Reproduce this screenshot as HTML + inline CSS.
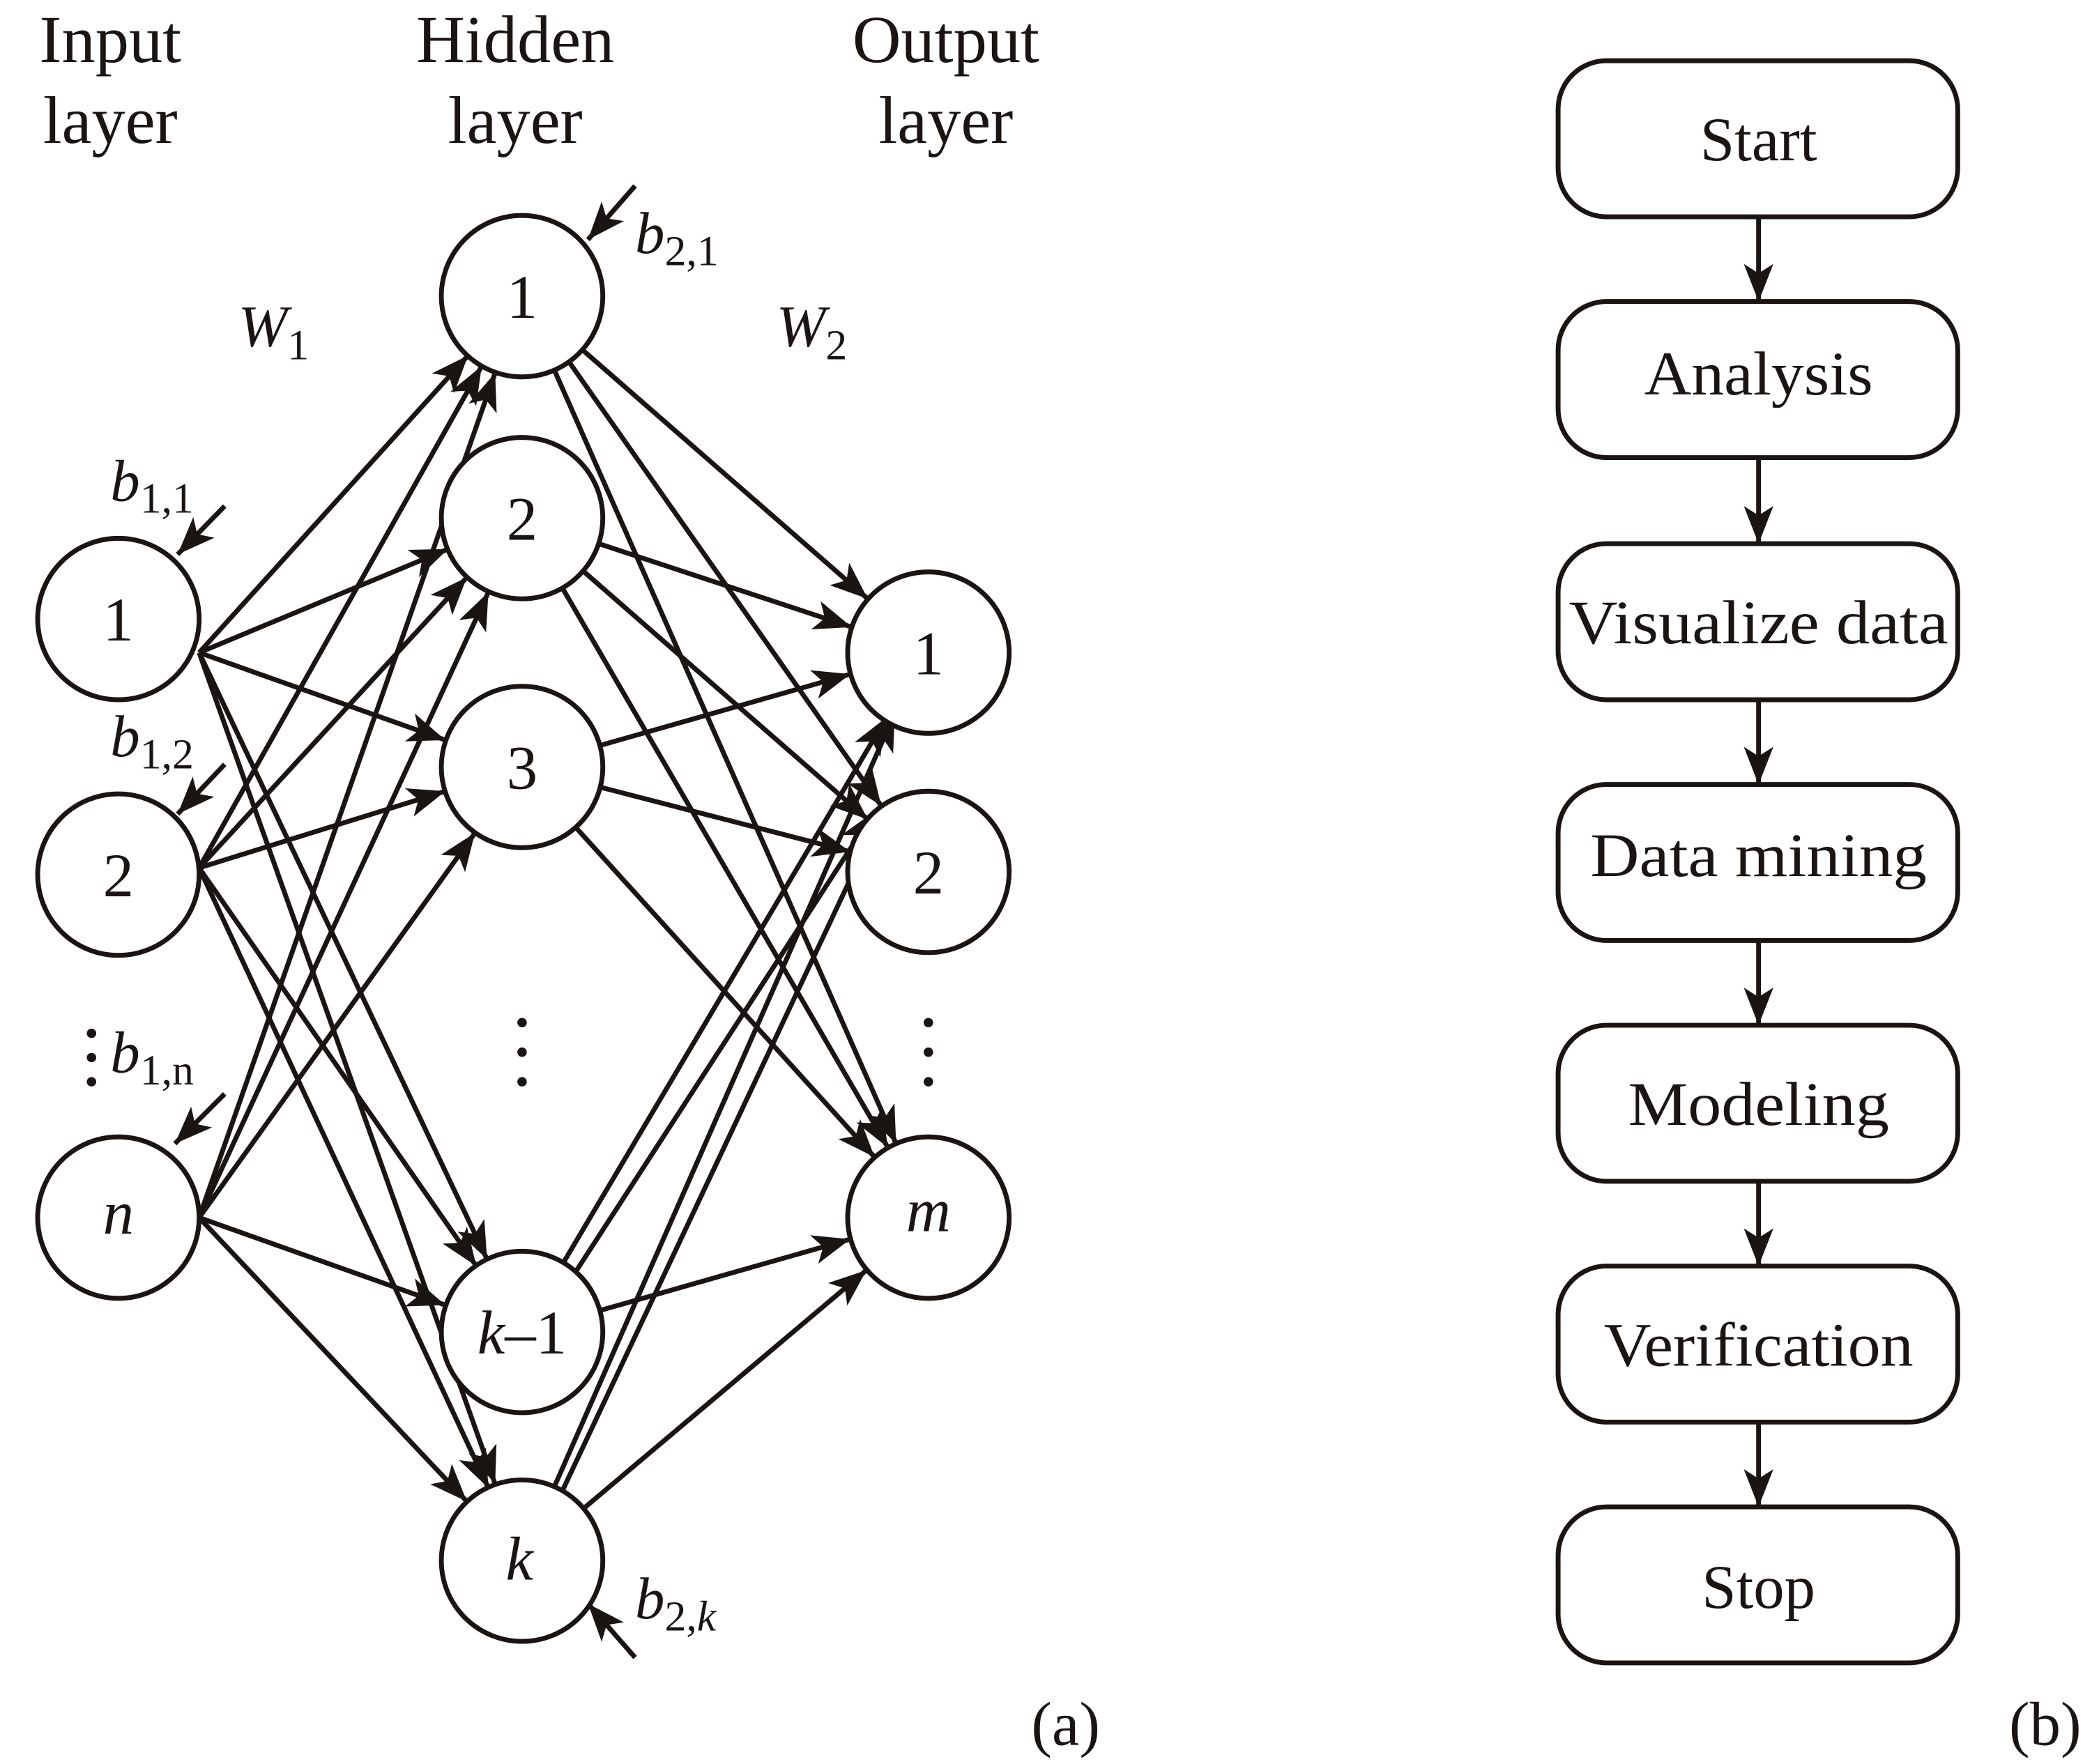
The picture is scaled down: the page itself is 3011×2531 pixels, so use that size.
<!DOCTYPE html>
<html><head><meta charset="utf-8"><style>
html,body{margin:0;padding:0;background:#fff;}
svg{display:block;}
text{font-family:"Liberation Serif",serif;fill:#1a1412;}
</style></head><body>
<svg width="3011" height="2531" viewBox="0 0 1560 1311" xmlns="http://www.w3.org/2000/svg">
<defs>
<marker id="a" markerUnits="userSpaceOnUse" markerWidth="30" markerHeight="22" refX="28" refY="11" orient="auto">
<path d="M0,0 L28,11 L0,22 L7,11 Z" fill="#1a1412"/>
</marker>
</defs>
<rect width="1560" height="1311" fill="#fff"/>
<g font-size="50" text-anchor="middle">
<text x="82" y="46">Input</text><text x="82" y="106">layer</text>
<text x="383" y="46">Hidden</text><text x="383" y="106">layer</text>
<text x="703" y="46">Output</text><text x="703" y="106">layer</text>
</g>
<g font-size="44" font-style="italic">
<text x="177" y="257">W<tspan font-style="normal" font-size="32" dy="10">1</tspan></text>
<text x="577" y="257">W<tspan font-style="normal" font-size="32" dy="10">2</tspan></text>
<text x="82" y="372">b<tspan font-style="normal" font-size="32" dy="9">1,1</tspan></text>
<text x="82" y="562">b<tspan font-style="normal" font-size="32" dy="9">1,2</tspan></text>
<text x="82" y="797">b<tspan font-style="normal" font-size="32" dy="9">1,n</tspan></text>
<text x="472" y="188">b<tspan font-style="normal" font-size="32" dy="9">2,1</tspan></text>
<text x="472" y="1203">b<tspan font-style="normal" font-size="32" dy="9">2,<tspan font-style="italic">k</tspan></tspan></text>
</g>
<g fill="#1a1412">
<circle cx="68" cy="768" r="3.5"/><circle cx="68" cy="786" r="3.5"/><circle cx="68" cy="804" r="3.5"/>
<circle cx="388" cy="760" r="3.5"/><circle cx="388" cy="782" r="3.5"/><circle cx="388" cy="804" r="3.5"/>
<circle cx="690" cy="760" r="3.5"/><circle cx="690" cy="782" r="3.5"/><circle cx="690" cy="804" r="3.5"/>
</g>
<g stroke="#1a1412" stroke-width="3.6" fill="none" marker-end="url(#a)">
<line x1="148" y1="485" x2="348" y2="264"/>
<line x1="148" y1="485" x2="333" y2="408"/>
<line x1="148" y1="485" x2="331" y2="550"/>
<line x1="148" y1="485" x2="362" y2="936"/>
<line x1="148" y1="485" x2="368" y2="1103"/>
<line x1="148" y1="645" x2="358" y2="272"/>
<line x1="148" y1="645" x2="347" y2="429"/>
<line x1="148" y1="645" x2="331" y2="588"/>
<line x1="148" y1="645" x2="354" y2="941"/>
<line x1="148" y1="645" x2="363" y2="1106"/>
<line x1="148" y1="905" x2="368" y2="277"/>
<line x1="148" y1="905" x2="363" y2="440"/>
<line x1="148" y1="905" x2="353" y2="619"/>
<line x1="148" y1="905" x2="331" y2="970"/>
<line x1="148" y1="905" x2="347" y2="1116"/>
<line x1="433" y1="260" x2="645" y2="445"/>
<line x1="423" y1="269" x2="655" y2="599"/>
<line x1="412" y1="275" x2="666" y2="850"/>
<line x1="445" y1="404" x2="633" y2="466"/>
<line x1="433" y1="424" x2="645" y2="609"/>
<line x1="418" y1="437" x2="660" y2="853"/>
<line x1="446" y1="554" x2="632" y2="501"/>
<line x1="446" y1="585" x2="632" y2="633"/>
<line x1="428" y1="615" x2="650" y2="860"/>
<line x1="419" y1="938" x2="659" y2="533"/>
<line x1="428" y1="945" x2="650" y2="603"/>
<line x1="446" y1="974" x2="632" y2="921"/>
<line x1="412" y1="1105" x2="665" y2="530"/>
<line x1="418" y1="1108" x2="659" y2="596"/>
<line x1="434" y1="1121" x2="644" y2="944"/>
<line x1="167" y1="376" x2="132" y2="412"/>
<line x1="167" y1="568" x2="132" y2="605"/>
<line x1="167" y1="813" x2="130" y2="850"/>
<line x1="472" y1="138" x2="437" y2="178"/>
<line x1="472" y1="1232" x2="437" y2="1192"/>
</g>
<g stroke="#1a1412" stroke-width="3.6" fill="#fff">
<circle cx="88" cy="460" r="60"/><circle cx="88" cy="650" r="60"/><circle cx="88" cy="905" r="60"/>
<circle cx="388" cy="220" r="60"/><circle cx="388" cy="385" r="60"/><circle cx="388" cy="570" r="60"/>
<circle cx="388" cy="990" r="60"/><circle cx="388" cy="1160" r="60"/>
<circle cx="690" cy="485" r="60"/><circle cx="690" cy="648" r="60"/><circle cx="690" cy="905" r="60"/>
</g>
<g font-size="46" text-anchor="middle">
<text x="88" y="476">1</text><text x="88" y="666">2</text><text x="88" y="917" font-style="italic">n</text>
<text x="388" y="236">1</text><text x="388" y="401">2</text><text x="388" y="586">3</text>
<text x="388" y="1006"><tspan font-style="italic">k</tspan>–1</text><text x="386" y="1174" font-style="italic">k</text>
<text x="690" y="501">1</text><text x="690" y="664">2</text><text x="690" y="915" font-style="italic">m</text>
<text x="792" y="1297">(a)</text><text x="1520" y="1297">(b)</text>
</g>
<g stroke="#1a1412" stroke-width="3.6" fill="#fff">
<rect x="1158" y="45" width="297" height="116" rx="36"/>
<rect x="1158" y="224" width="297" height="116" rx="36"/>
<rect x="1158" y="404" width="297" height="116" rx="36"/>
<rect x="1158" y="583" width="297" height="116" rx="36"/>
<rect x="1158" y="762" width="297" height="116" rx="36"/>
<rect x="1158" y="941" width="297" height="116" rx="36"/>
<rect x="1158" y="1120" width="297" height="116" rx="36"/>
</g>
<g stroke="#1a1412" stroke-width="3.6" marker-end="url(#a)">
<line x1="1307" y1="161" x2="1307" y2="224"/>
<line x1="1307" y1="340" x2="1307" y2="404"/>
<line x1="1307" y1="520" x2="1307" y2="583"/>
<line x1="1307" y1="699" x2="1307" y2="762"/>
<line x1="1307" y1="878" x2="1307" y2="941"/>
<line x1="1307" y1="1057" x2="1307" y2="1120"/>
</g>
<g font-size="46" text-anchor="middle">
<text x="1307" y="119">Start</text>
<text x="1307" y="293" textLength="170" lengthAdjust="spacingAndGlyphs">Analysis</text>
<text x="1307" y="478" textLength="282" lengthAdjust="spacingAndGlyphs">Visualize data</text>
<text x="1307" y="651" textLength="250" lengthAdjust="spacingAndGlyphs">Data mining</text>
<text x="1307" y="836" textLength="194" lengthAdjust="spacingAndGlyphs">Modeling</text>
<text x="1307" y="1015" textLength="230" lengthAdjust="spacingAndGlyphs">Verification</text>
<text x="1307" y="1195">Stop</text>
</g>
</svg>
</body></html>
